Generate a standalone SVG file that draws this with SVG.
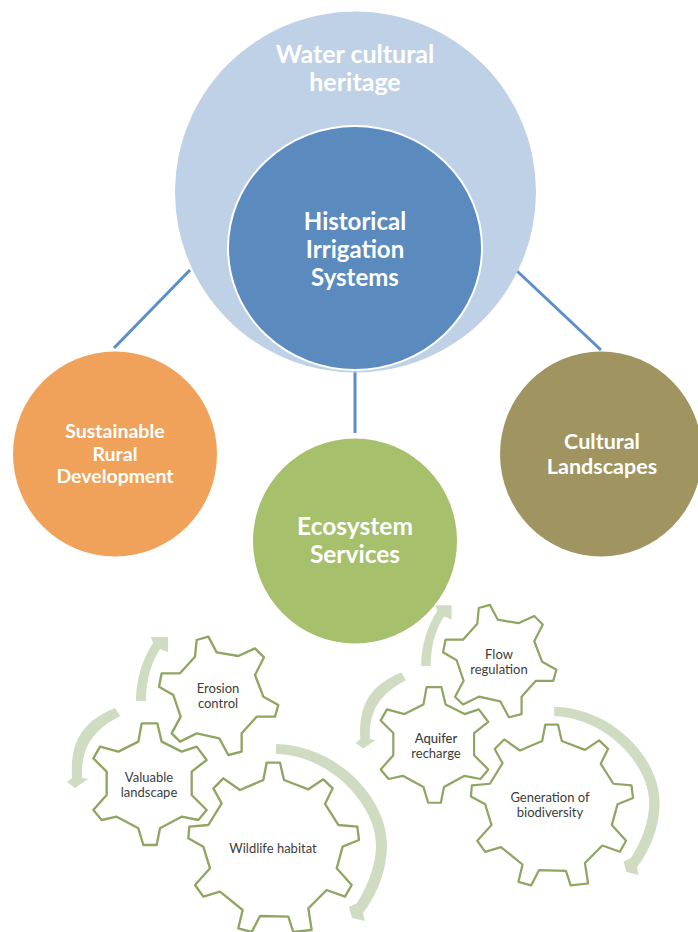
<svg xmlns="http://www.w3.org/2000/svg" width="698" height="932" viewBox="0 0 698 932">
<style>
text{font-family:Lato,"Liberation Sans",sans-serif;text-anchor:middle}
.h{font-weight:700;fill:#fff}
.g{fill:#3c3c3c;font-size:13px}
.gear{fill:#fff;stroke:#8fa562;stroke-width:7;stroke-linejoin:round}
.arrow{fill:#cfdcc1}
.conn{stroke:#5b8fc7;stroke-width:3;fill:none}
</style>
<defs>
<polygon id="gear-a" class="gear" transform="translate(60 620) scale(.33333)" points="410,60 445,50 470,97 535,108 585,85 612,112 585,165 610,230 655,255 645,290 590,290 545,340 545,395 505,405 478,355 410,340 360,365 335,340 362,290 340,225 297,200 305,160 360,160 405,110"/>
<polygon id="gear-b" class="gear" transform="translate(60 620) scale(.33333)" points="245,310 292,310 305,365 365,395 410,380 440,420 395,455 395,525 440,570 415,600 365,590 300,625 290,675 250,675 235,625 170,590 125,600 100,570 140,525 140,455 100,415 120,380 175,395 235,365"/>
<polygon id="gear-c" class="gear" transform="translate(60 620) scale(.33333)" points="620,428 660,428 672,480 745,508 790,478 818,505 795,552 835,615 892,620 897,660 848,680 830,745 875,795 855,830 800,810 745,865 755,930 700,936 685,890 600,888 575,936 535,925 548,870 480,815 430,830 405,795 450,745 430,680 385,655 388,620 445,615 485,550 460,505 490,475 540,510 610,480"/>
<g id="arrows">
<path class="arrow" d="M276,744 C340,746 387,800 387,845 C387,870 377,895 363,913 L365,921 L352,918 L349,907 L357,903 C368,885 376,865 376,845 C376,805 330,755 276,754 Z"/>
<path class="arrow" d="M136,701 C136,680 142,660 153,643 L151,637 L168,637 L168,652 L160,649 C151,663 146,680 146,701 Z"/>
<path class="arrow" d="M115,708 C80,722 70,745 72,778 L67,782 L75,788 L88,779 L82,778 C81,750 90,732 120,716 Z"/>
</g>
</defs>
<g id="connectors">
<line class="conn" x1="190" y1="270" x2="114" y2="348"/>
<line class="conn" x1="355" y1="372" x2="355" y2="433"/>
<line class="conn" x1="517" y1="271" x2="601" y2="350"/>
</g>
<g id="water-heritage">
<circle cx="355.5" cy="192" r="180.500" fill="#bfd1e6"/>
<text class="h" x="355" y="63" font-size="25">Water cultural</text>
<text class="h" x="355" y="91" font-size="25">heritage</text>
</g>
<g id="irrigation">
<ellipse cx="355" cy="248" rx="127" ry="122" fill="#5b8abf" stroke="#fff" stroke-width="2"/>
<text class="h" x="355" y="230" font-size="24">Historical</text>
<text class="h" x="355" y="258" font-size="24">Irrigation</text>
<text class="h" x="355" y="286" font-size="24">Systems</text>
</g>
<g id="rural">
<ellipse cx="115" cy="454" rx="102" ry="102.500" fill="#f1a25a"/>
<text class="h" x="115" y="438" font-size="19.500">Sustainable</text>
<text class="h" x="115" y="461" font-size="19.500">Rural</text>
<text class="h" x="115" y="483" font-size="19.500">Development</text>
</g>
<g id="ecosystem">
<ellipse cx="355" cy="541" rx="102" ry="102.500" fill="#a6c06c"/>
<text class="h" x="355" y="535" font-size="24.500">Ecosystem</text>
<text class="h" x="355" y="563" font-size="24.500">Services</text>
</g>
<g id="cultural">
<ellipse cx="601" cy="454" rx="101" ry="102.500" fill="#a09561"/>
<text class="h" x="602" y="449" font-size="21.500">Cultural</text>
<text class="h" x="602" y="474" font-size="21.500">Landscapes</text>
</g>
<use href="#arrows"/>
<use href="#arrows" transform="translate(292 0) scale(.95)"/>
<g id="erosion"><use href="#gear-a"/><text class="g" x="218" y="693">Erosion</text><text class="g" x="218" y="708">control</text></g>
<g id="valuable"><use href="#gear-b"/><text class="g" x="149" y="782">Valuable</text><text class="g" x="149" y="797">landscape</text></g>
<g id="wildlife"><use href="#gear-c"/><text class="g" x="273" y="853">Wildlife habitat</text></g>
<g id="flow"><use href="#gear-a" transform="translate(292 0) scale(.95)"/><text class="g" x="499" y="659">Flow</text><text class="g" x="499" y="674">regulation</text></g>
<g id="aquifer"><use href="#gear-b" transform="translate(292 0) scale(.95)"/><text class="g" x="436" y="743" font-weight="500">Aquifer</text><text class="g" x="436" y="758">recharge</text></g>
<g id="biodiversity"><use href="#gear-c" transform="translate(292 0) scale(.95)"/><text class="g" x="550" y="802">Generation of</text><text class="g" x="550" y="817">biodiversity</text></g>
</svg>
